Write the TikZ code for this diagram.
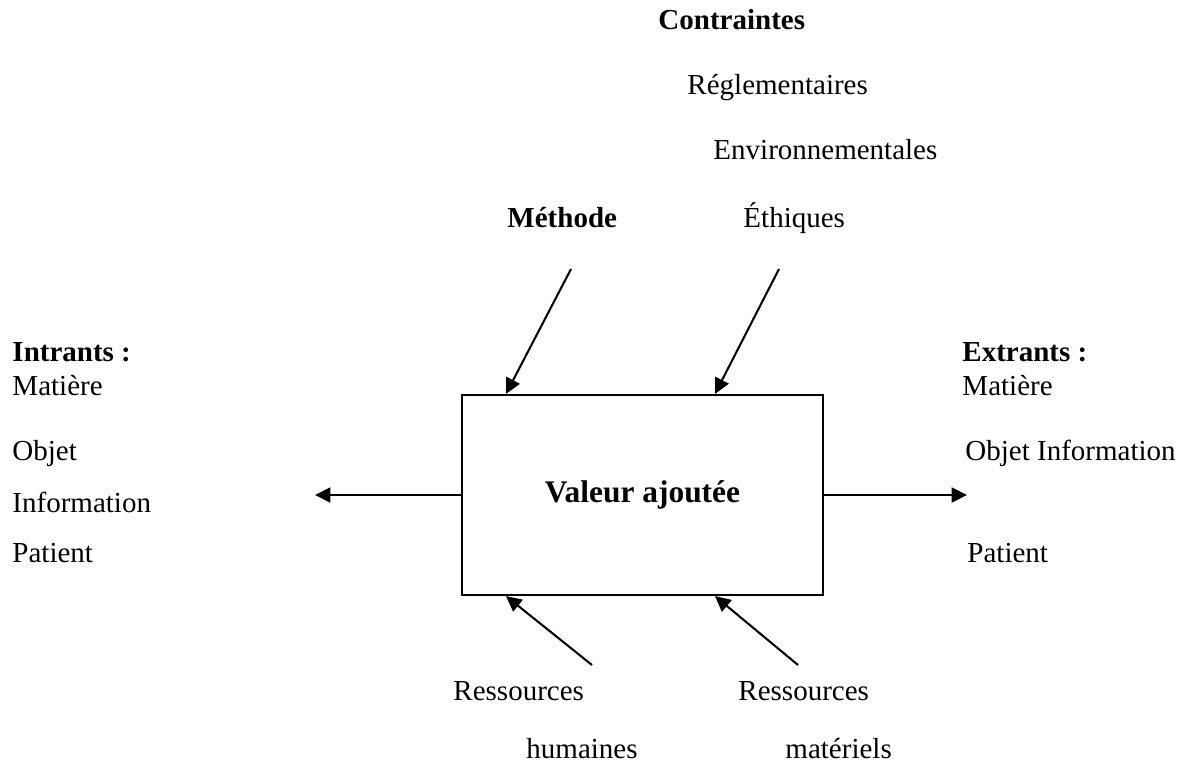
\documentclass[tikz,border=0pt]{standalone}
\usepackage{fontspec}
\setmainfont{Liberation Serif}
\usetikzlibrary{arrows.meta,calc}
\begin{document}
\begin{tikzpicture}[x=0.4138pt,y=-0.4138pt,
  lbl/.style={anchor=base west,inner sep=0pt,font=\fontsize{12}{14}\selectfont},
  blbl/.style={anchor=base west,inner sep=0pt,font=\fontsize{12}{14}\selectfont\bfseries},
  arr/.style={line width=0.85pt,-{Triangle[length=6.4pt,width=6.2pt]}},
  boxst/.style={draw,line width=0.85pt,minimum width=149.4pt,minimum height=82.8pt,inner sep=0pt,font=\fontsize{13}{15}\selectfont\bfseries}]
\useasboundingbox (0,0) rectangle (1186,767);
% central box
\node[boxst] (box) at (642.5,495) {\raisebox{-1.2pt}{Valeur ajoutée}};
% top labels
\node[blbl] (contr) at (658,30) {Contraintes};
\node[lbl] (regl) at (687,95) {Réglementaires};
\node[lbl] (env) at (713,160) {Environnementales};
\node[lbl] (eth) at (743,227) {Éthiques};
\node[blbl] (meth) at (507,227) {Méthode};
% left labels
\node[blbl] (intr) at (12,362) {Intrants :};
\node[lbl] (lmat) at (12,395) {Matière};
\node[lbl] (lobj) at (12,460) {Objet};
\node[lbl] (linf) at (12,512) {Information};
\node[lbl] (lpat) at (12,562) {Patient};
% right labels
\node[blbl] (extr) at (962,362) {Extrants :};
\node[lbl] (rmat) at (962,395) {Matière};
\node[lbl] (robj) at (965,460) {Objet Information};
\node[lbl] (rpat) at (967,562) {Patient};
% bottom labels
\node[lbl] (res1) at (453,700) {Ressources};
\node[lbl] (hum) at (526,758) {humaines};
\node[lbl] (res2) at (738,700) {Ressources};
\node[lbl] (mat) at (785,758) {matériels};
% arrow free ends
\coordinate (lout) at (315,495);
\coordinate (rout) at (967,495);
\coordinate (tm) at (571,269);
\coordinate (tc) at (779,269);
\coordinate (bh) at (592,665);
\coordinate (bm) at (798,665);
% connectors
\draw[arr] (box.west) -- (lout);
\draw[arr] (box.east) -- (rout);
\draw[arr] (tm) -- ($(box.north west)+(45,0)$);
\draw[arr] (tc) -- ($(box.north west)+(254,0)$);
\draw[arr] (bh) -- ($(box.south west)+(45,0)$);
\draw[arr] (bm) -- ($(box.south west)+(254,0)$);
\end{tikzpicture}
\end{document}
